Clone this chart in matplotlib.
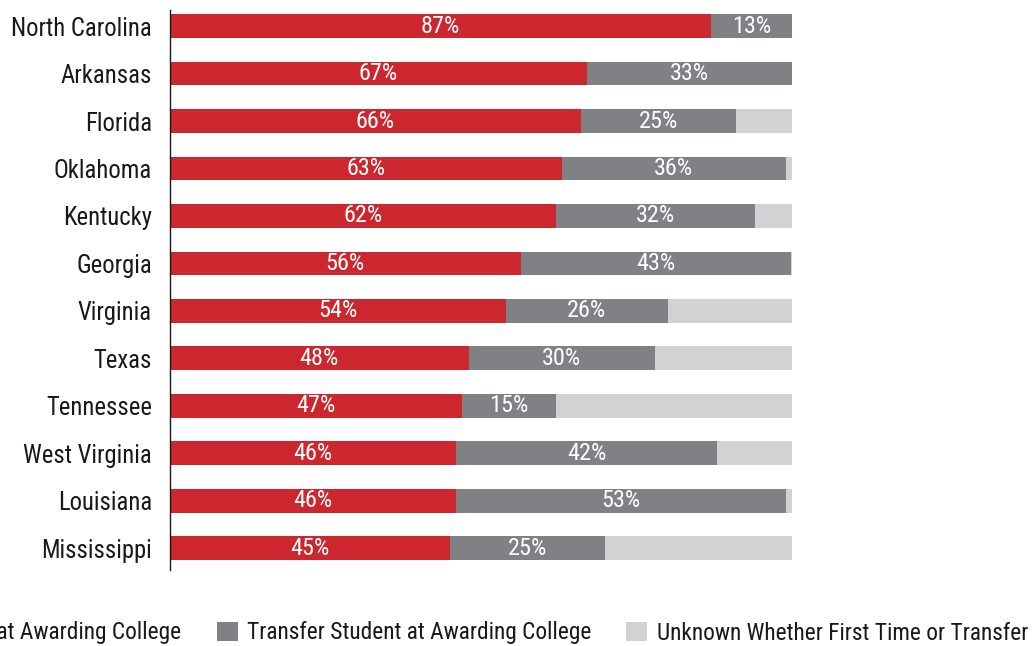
import numpy as np
import matplotlib.pyplot as plt

#---------------------------DATA------------------------------------
states = ["North Carolina", "Arkansas", "Florida", "Oklahoma", "Kentucky", "Georgia",
          "Virginia", "Texas", "Tennessee", "West Virginia", "Louisiana", "Mississippi"]
firstTime = [87, 67, 66, 63, 62, 56.4, 54, 48, 47, 46, 46, 45]
transfer = [13, 33, 25, 36, 32, 43.4, 26, 30, 15, 42, 53, 25]
unknown = [0, 0, 9, 1, 6, 0.2, 20, 22, 38, 12, 1, 30]
seriesNames = ["First Time Student at Awarding College",
               "Transfer Student at Awarding College",
               "Unknown Whether First Time or Transfer"]
#-------------------------------------------------------------------

plt.rcParams['font.family'] = ['Roboto Condensed', 'Archivo Narrow', 'Liberation Sans', 'DejaVu Sans']

colRed = "#cc272e"
colGray = "#808184"
colLight = "#d1d2d4"
colText = "#1a1718"

fig = plt.figure(figsize=(10.34, 6.46), dpi=100)
ax = fig.add_axes([170/1034, 1-570/646, 622/1034, 560/646])

y = np.arange(len(states))
h = 0.5
left2 = np.array(firstTime)
left3 = left2 + np.array(transfer)
b1 = ax.barh(y, firstTime, height=h, color=colRed, label=seriesNames[0])
b2 = ax.barh(y, transfer, left=left2, height=h, color=colGray, label=seriesNames[1])
b3 = ax.barh(y, unknown, left=left3, height=h, color=colLight, label=seriesNames[2])

# value labels on red and dark gray segments
for i in range(len(states)):
    ax.text(firstTime[i]/2, y[i], f"{firstTime[i]:.0f}%", ha="center", va="center",
            color="white", fontsize=17.5)
    ax.text(left2[i] + transfer[i]/2, y[i], f"{transfer[i]:.0f}%", ha="center", va="center",
            color="white", fontsize=17.5)

ax.set_xlim(0, 100)
ax.set_ylim(11.46, -0.34)
ax.set_yticks(y)
ax.set_yticklabels(states, fontsize=17.7, color=colText)
ax.tick_params(axis="y", length=0, pad=13)
ax.set_xticks([])
for s in ["top", "right", "bottom"]:
    ax.spines[s].set_visible(False)
ax.spines["left"].set_linewidth(1.0)
ax.spines["left"].set_color(colText)

# legend runs off the left edge, as in the original
leg = fig.legend(handles=[b1, b2, b3], loc="center right", bbox_to_anchor=(1028/1034, 1-633/646),
                 ncol=3, frameon=False, fontsize=16.8, handlelength=0.9, handleheight=0.9,
                 columnspacing=1.5, handletextpad=0.4, borderpad=0, borderaxespad=0)
for t in leg.get_texts():
    t.set_color(colText)

plt.savefig("out.png", dpi=100)
